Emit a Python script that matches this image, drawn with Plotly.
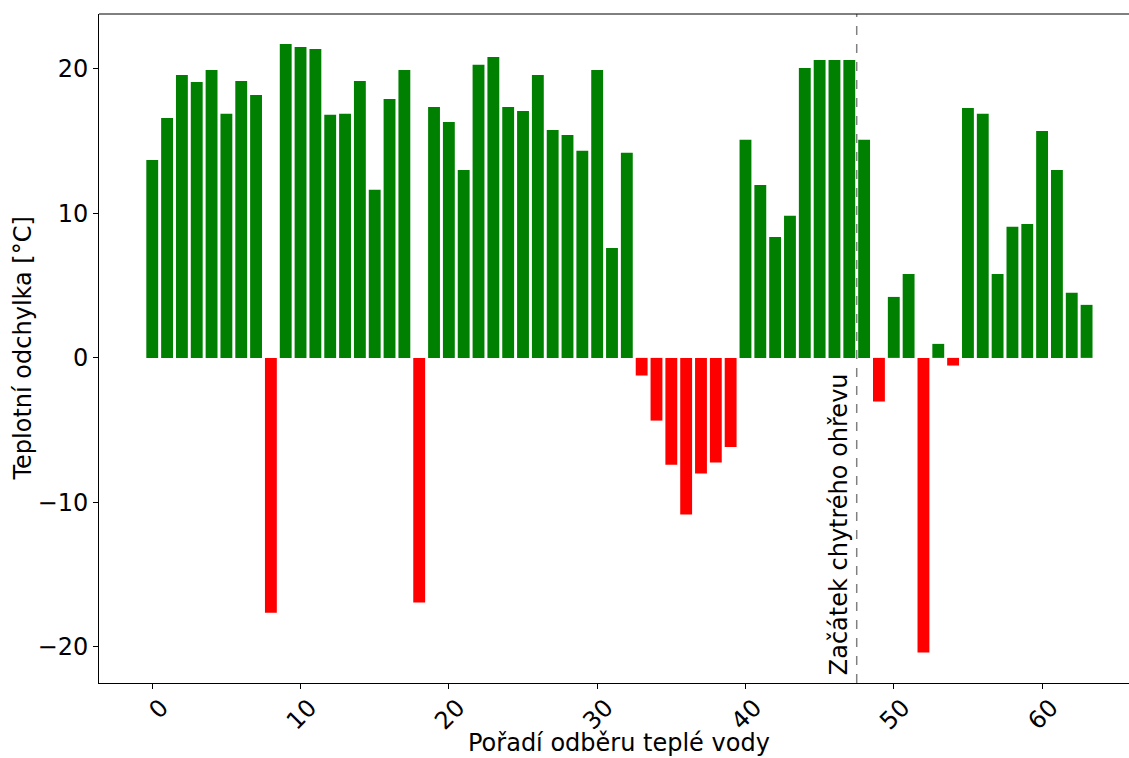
import plotly.graph_objects as go

order = list(range(64))
deviation = [
    13.70, 16.61, 19.58, 19.10, 19.93, 16.89, 19.17, 18.20, -17.63, 21.73,
    21.52, 21.38, 16.82, 16.89, 19.17, 11.63, 17.92, 19.93, -16.93, 17.37,
    16.33, 13.01, 20.28, 20.83, 17.37, 17.09, 19.58, 15.78, 15.43, 14.33,
    19.93, 7.61, 14.19, -1.22, -4.34, -7.40, -10.84, -8.00, -7.24, -6.16,
    15.09, 11.97, 8.37, 9.83, 20.07, 20.62, 20.62, 20.62, 15.09, -3.02,
    4.22, 5.81, -20.39, 0.97, -0.53, 17.30, 16.89, 5.81, 9.07, 9.27,
    15.71, 13.01, 4.50, 3.67,
]
smart_start = 47.5
x_ticks = [0, 10, 20, 30, 40, 50, 60]
y_ticks = [-20, -10, 0, 10, 20]
x_title = "Pořadí odběru teplé vody"
y_title = "Teplotní odchylka [°C]"
marker_text = "Začátek chytrého ohřevu"

colors = ["#008000" if v >= 0 else "#ff0000" for v in deviation]
FONT = "DejaVu Sans"

fig = go.Figure()
fig.add_trace(go.Bar(x=order, y=deviation, width=0.8, marker=dict(color=colors, line=dict(width=0)),
                     showlegend=False))

fig.add_shape(type="line", x0=smart_start, x1=smart_start, y0=0, y1=1, xref="x", yref="paper",
              line=dict(color="#808080", width=1.5, dash="dash"))
fig.add_annotation(x=smart_start, y=-22.4, xref="x", yref="y", text=marker_text,
                   textangle=-90, xanchor="right", yanchor="bottom", showarrow=False,
                   font=dict(family=FONT, size=24, color="black"), xshift=-2, yshift=4)

# axis titles (placed like the original, whose plot extends slightly past the right edge)
fig.add_annotation(x=0.5049, y=0, xref="paper", yref="paper", text=x_title, showarrow=False,
                   xanchor="center", yanchor="middle", yshift=-60,
                   font=dict(family=FONT, size=24, color="black"))
fig.add_annotation(x=0, y=0.5, xref="paper", yref="paper", text=y_title, showarrow=False,
                   textangle=-90, xanchor="center", yanchor="middle", xshift=-77,
                   font=dict(family=FONT, size=24, color="black"))

fig.update_layout(
    width=1129, height=758,
    margin=dict(l=99, r=0, t=14, b=75),
    plot_bgcolor="white", paper_bgcolor="white",
    font=dict(family=FONT, size=24, color="black"),
)
fig.update_xaxes(
    range=[-3.59, 65.86], tickvals=x_ticks, tickangle=-45, ticks="outside", ticklen=5,
    tickwidth=1, tickcolor="black", showline=True, linecolor="black", linewidth=1,
    mirror=False, showgrid=False, zeroline=False, ticklabelshift=9, ticklabelstandoff=-5,
    automargin=False,
)
fig.update_yaxes(
    range=[-22.5, 23.8], tickvals=y_ticks, ticks="outside", ticklen=5, tickwidth=1,
    tickcolor="black", showline=True, linecolor="black", linewidth=1, showgrid=False,
    zeroline=False, automargin=False,
)
# top spine
fig.add_shape(type="line", x0=0, x1=1, y0=1, y1=1, xref="paper", yref="paper",
              line=dict(color="black", width=1))

fig.write_html("out.html")
